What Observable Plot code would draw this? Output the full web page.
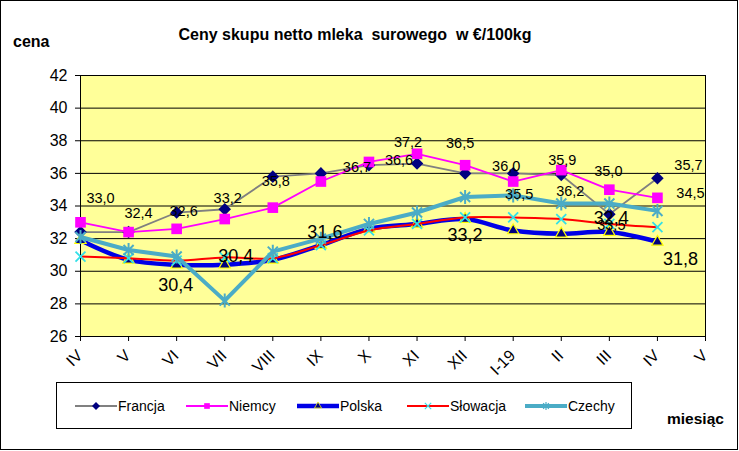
<!DOCTYPE html>
<html><head><meta charset="utf-8">
<script src="https://cdn.jsdelivr.net/npm/d3@7"></script>
<script src="https://cdn.jsdelivr.net/npm/@observablehq/plot@0.6"></script>
<style>
body{margin:0;background:#fff;}
#chart svg{display:block;}
</style>
</head><body><div id="chart"></div>
<script>
// ---- data ----
const months = ["IV","V","VI","VII","VIII","IX","X","XI","XII","I-19","II","III","IV","V"];
const yTicks = [26,28,30,32,34,36,38,40,42];
const seriesNames = ["Francja","Niemcy","Polska","Słowacja","Czechy"];
const francja  = [32.4,32.4,33.6,33.8,35.8,36.0,36.5,36.6,36.0,36.0,35.9,33.5,35.7];
const niemcy   = [33.0,32.4,32.6,33.2,33.9,35.5,36.7,37.2,36.5,35.5,36.2,35.0,34.5];
const polska   = [31.9,30.7,30.4,30.4,30.7,31.6,32.6,32.9,33.2,32.5,32.3,32.4,31.8];
const slowacja = [30.9,30.8,30.65,30.85,30.8,31.6,32.5,32.9,33.3,33.3,33.2,32.9,32.7];
const czechy   = [32.1,31.3,30.9,28.2,31.2,32.0,32.9,33.6,34.55,34.65,34.15,34.15,33.7];
const labelSeries = ["Niemcy","Niemcy","Niemcy","Niemcy","Francja","Niemcy","Polska","Polska","Polska","Francja","Niemcy","Niemcy","Polska","Francja","Niemcy","Francja","Niemcy","Niemcy","Polska","Francja","Francja","Niemcy","Polska"];
const labelIndex  = [0,1,2,3,4,6,2,3,5,7,7,8,8,9,9,10,10,11,11,11,12,12,12];
const labelText   = ["33,0","32,4","32,6","33,2","35,8","36,7","30,4","30,4","31,6","36,6","37,2","36,5","33,2","36,0","35,5","35,9","36,2","35,0","32,4","33,5","35,7","34,5","31,8"];

// ---- layout (label offsets in px, font size) ----
const labelLayout = [[20,-24,14.5],[10,-19,14.5],[7,-17,14.5],[3,-21,14.5],[3,5,14.5],[-12,5,14.5],
  [-1,21,18],[11,-8,18],[4,-13,18],[-18,-3,14.5],[-9,-11,14.5],[-5,-22,14.5],[0,16,18],
  [-7,-7,14.5],[6,13,14.5],[1,-15,14.5],[9,21,14.5],[-1,-18,14.5],[2,-14,18],[2,11,14.5],
  [31,-13,14.5],[33,-4,14.5],[23,17,18]];

const diamond = {draw(ctx, size){const r=Math.sqrt(size/2);ctx.moveTo(0,-r);ctx.lineTo(r,0);ctx.lineTo(0,r);ctx.lineTo(-r,0);ctx.closePath();}};
const star = {draw(ctx, size){const r=Math.sqrt(size/Math.PI);const k=r*0.72;ctx.moveTo(0,-r);ctx.lineTo(0,r);ctx.moveTo(-k,-k);ctx.lineTo(k,k);ctx.moveTo(-k,k);ctx.lineTo(k,-k);}};

const valuesOf = {"Francja":francja,"Niemcy":niemcy,"Polska":polska,"Słowacja":slowacja,"Czechy":czechy};
const style = {
  "Francja":  {line:"#808080", lw:1.8, curve:"linear", sym:diamond, r:5, fill:"#000080", ms:"none", msw:0, lr:3.2},
  "Niemcy":   {line:"#FF00FF", lw:1.8, curve:"linear", sym:"square", r:6, fill:"#FF00FF", ms:"none", msw:0, lr:3.2},
  "Polska":   {line:"#0000E6", lw:4.5, curve:"catmull-rom", sym:"triangle", r:4.2, fill:"#000080", ms:"#FFFF00", msw:1.2, lr:2.6},
  "Słowacja": {line:"#FF0000", lw:2, curve:"catmull-rom", sym:"times", r:4.6, fill:"none", ms:"#33E0E8", msw:1.8, lr:3},
  "Czechy":   {line:"#4BACC6", lw:4, curve:"linear", sym:star, r:7, fill:"none", ms:"#4BACC6", msw:2, lr:4}
};

const rows = name => valuesOf[name].map((v,i)=>({s:name,i,v}));
const labels = labelText.map((t,k)=>({t, i:labelIndex[k], v:valuesOf[labelSeries[k]][labelIndex[k]], dx:labelLayout[k][0], dy:labelLayout[k][1], fs:labelLayout[k][2]}));
const monthRows = months.map((m,i)=>({m,i}));

const marks = [
  Plot.frame({fill:"#FFFF99", stroke:null}),
  Plot.ruleY(yTicks, {stroke:"#000", strokeWidth:1}),
  Plot.frame({stroke:"#000", strokeWidth:1}),
  Plot.axisY({ticks:yTicks, tickSize:5, tickPadding:8, fontSize:16, tickFormat:d=>String(d), label:null}),
  Plot.axisX({ticks:d3.range(14), tickFormat:()=>"", tickSize:5, label:null}),
  Plot.text(monthRows, {x:"i", text:"m", frameAnchor:"bottom", rotate:-45, textAnchor:"end", dx:3, dy:20, fontSize:16, fill:"#000"})
];
for (const name of seriesNames) {
  const st = style[name];
  marks.push(Plot.line(rows(name), {x:"i", y:"v", stroke:st.line, strokeWidth:st.lw, curve:st.curve}));
  marks.push(Plot.dot(rows(name), {x:"i", y:"v", symbol:st.sym, r:st.r, fill:st.fill, stroke:st.ms, strokeWidth:st.msw}));
}
for (const d of labels) {
  marks.push(Plot.text([d], {x:"i", y:"v", text:"t", dx:d.dx, dy:d.dy, fontSize:d.fs, fill:"#000", lineAnchor:"middle"}));
}

const chart = Plot.plot({
  width:739, height:451,
  marginLeft:80, marginRight:34, marginTop:75, marginBottom:115,
  style:{fontFamily:"'Liberation Sans', Arial, sans-serif", color:"#000", background:"#fff", overflow:"visible"},
  x:{domain:[0,13], axis:null},
  y:{domain:[26,42], axis:null},
  marks
});
document.getElementById("chart").appendChild(chart);

// ---- titles, legend, border ----
const svg = d3.select(chart);
const ff = "'Liberation Sans', Arial, sans-serif";
svg.append("rect").attr("x",0.5).attr("y",0.5).attr("width",737).attr("height",449).attr("fill","none").attr("stroke","#000");
svg.append("text").attr("x",355).attr("y",40).attr("text-anchor","middle").attr("font-family",ff).attr("font-weight","bold").attr("font-size",16).style("white-space","pre").text("Ceny skupu netto mleka  surowego  w €/100kg");
svg.append("text").attr("x",13).attr("y",47).attr("text-anchor","start").attr("font-family",ff).attr("font-weight","bold").attr("font-size",16).text("cena");
svg.append("text").attr("x",667).attr("y",424).attr("text-anchor","start").attr("font-family",ff).attr("font-weight","bold").attr("font-size",15.5).text("miesiąc");
svg.append("rect").attr("x",56.5).attr("y",382.5).attr("width",575).attr("height",46).attr("fill","#fff").attr("stroke","#000");
const legX = [75,186,297,407,525];
const symGen = s => typeof s === "string" ? ({square:d3.symbolSquare, triangle:d3.symbolTriangle, times:d3.symbolTimes})[s] : s;
seriesNames.forEach((name,k)=>{
  const st = style[name], x0 = legX[k], y0 = 406;
  svg.append("line").attr("x1",x0).attr("x2",x0+42).attr("y1",y0).attr("y2",y0).attr("stroke",st.line).attr("stroke-width",st.lw);
  const sz = Math.PI*st.lr*st.lr;
  svg.append("path").attr("transform",`translate(${x0+21},${y0})`).attr("d",d3.symbol(symGen(st.sym), sz)())
     .attr("fill",st.fill).attr("stroke",st.ms).attr("stroke-width",st.msw*0.6);
  svg.append("text").attr("x",x0+43).attr("y",y0+5).attr("text-anchor","start").attr("font-family",ff).attr("font-size",14).text(name);
});
</script>
</body></html>
